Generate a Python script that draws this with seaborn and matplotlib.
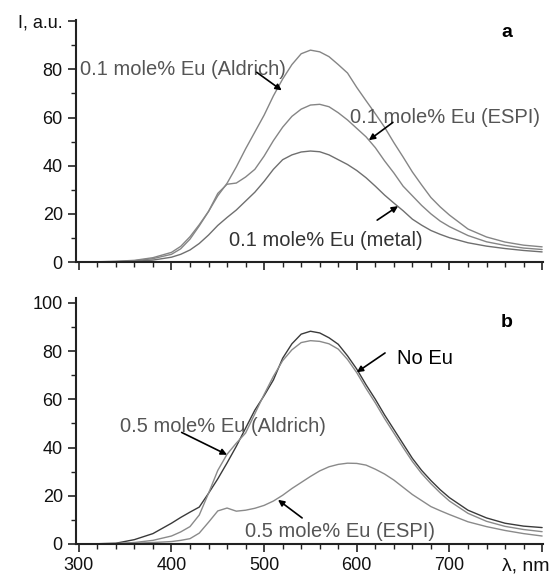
import matplotlib
matplotlib.use("Agg")
import matplotlib.pyplot as plt
from matplotlib.ticker import MultipleLocator
import seaborn as sns
import pandas as pd

# ---------------- data ----------------
wavelength = [300, 320, 340, 360, 380, 400, 410, 420, 430, 440, 450, 460, 470, 480, 490,
              500, 510, 520, 530, 540, 550, 560, 570, 580, 590, 600, 610, 620, 630, 640,
              650, 660, 670, 680, 690, 700, 720, 740, 760, 780, 800]

# panel a
a_aldrich = [0, 0.1, 0.3, 0.7, 1.8, 4.0, 6.5, 10.5, 15.5, 21, 27.5, 32.7, 39.5, 47, 54,
             61, 69, 76, 82, 86.5, 88, 87.3, 85.3, 82, 78.5, 72.5, 67, 61.6, 56, 49.6,
             43.6, 37.4, 32, 26.8, 22.9, 19.5, 13.7, 10.4, 8.3, 7.0, 6.3]
a_espi = [0, 0.1, 0.2, 0.5, 1.4, 3.2, 5.5, 9.5, 15, 21, 28.5, 32.3, 32.8, 35.3, 38.5,
          44, 50.4, 56, 60.5, 63.5, 65.2, 65.5, 64.5, 62, 59, 55.5, 52, 47.5, 42, 37,
          31.5, 27.5, 23.5, 20, 17, 14.7, 11, 8.4, 6.9, 5.8, 5.2]
a_metal = [0, 0, 0.1, 0.3, 0.8, 2.0, 3.2, 5.0, 7.7, 11.2, 15.2, 18.5, 21.6, 25.3, 29,
           33.5, 38.5, 42.5, 44.5, 45.7, 46.1, 45.8, 44.5, 42.5, 40.5, 38, 35, 31.5, 27.8, 24.5,
           21.3, 17.8, 15.3, 13.1, 11.5, 10.1, 8.0, 6.6, 5.6, 4.8, 4.2]

# panel b
b_noeu = [0, 0.1, 0.3, 1.8, 4.3, 8.6, 11, 13.2, 15.3, 21, 27, 33.6, 40.5, 48, 55.5,
          61.5, 68, 77, 83, 87, 88.2, 87.5, 85.5, 82.8, 78, 72.5, 66, 60, 53.5, 47.5,
          41.5, 35.5, 30.5, 26.3, 22.5, 19.2, 14, 10.8, 8.6, 7.4, 6.8]
b_aldrich = [0, 0.1, 0.2, 0.6, 1.5, 3.3, 5, 7.2, 12, 21, 30.5, 37.2, 41.8, 46, 54,
             62, 69.5, 76, 80.5, 83.5, 84.3, 84, 83, 80.8, 76.5, 71, 64.5, 58.5, 52, 46,
             40, 34.2, 29.2, 25, 21.2, 17.8, 12.7, 9.4, 7.3, 6.0, 5.1]
b_espi = [0, 0.05, 0.1, 0.3, 0.6, 1.0, 1.5, 2.2, 4.5, 9, 13.7, 14.9, 13.6, 14, 14.8,
          16, 17.8, 20.2, 23, 25.5, 28, 30.3, 32, 33, 33.5, 33.4, 32.7, 31, 29, 26.5,
          23.5, 20.5, 18, 15.5, 13.8, 12.2, 9.2, 7.2, 5.6, 4.3, 3.3]

x_ticks = [300, 400, 500, 600, 700, 800]
x_ticklabels = ["300", "400", "500", "600", "700", ""]
ya_ticks = [0, 20, 40, 60, 80, 100]
ya_ticklabels = ["0", "20", "40", "60", "80", "I, a.u."]
yb_ticks = [0, 20, 40, 60, 80, 100]
yb_ticklabels = ["0", "20", "40", "60", "80", "100"]

# ---------------- style ----------------
sns.set_style("ticks")
plt.rcParams["font.family"] = ["Liberation Sans", "DejaVu Sans"]

fig = plt.figure(figsize=(5.58, 5.76), dpi=100)
ax_a = fig.add_axes([0.1362, 0.5451, 0.837, 0.4201])
ax_b = fig.add_axes([0.1362, 0.0556, 0.837, 0.4271])

df_a = pd.DataFrame({"wl": wavelength * 3,
                     "I": a_aldrich + a_espi + a_metal,
                     "s": ["ald"] * len(wavelength) + ["espi"] * len(wavelength) + ["metal"] * len(wavelength)})
df_b = pd.DataFrame({"wl": wavelength * 3,
                     "I": b_noeu + b_aldrich + b_espi,
                     "s": ["noeu"] * len(wavelength) + ["ald"] * len(wavelength) + ["espi"] * len(wavelength)})

sns.lineplot(data=df_a, x="wl", y="I", hue="s", ax=ax_a, legend=False,
             palette={"ald": "#858585", "espi": "#858585", "metal": "#6f6f6f"}, linewidth=1.0)
sns.lineplot(data=df_b, x="wl", y="I", hue="s", ax=ax_b, legend=False,
             palette={"noeu": "#3a3a3a", "ald": "#8a8a8a", "espi": "#8a8a8a"}, linewidth=1.0)

for ax in (ax_a, ax_b):
    ax.set_xlim(297, 801)
    ax.set_xlabel("")
    ax.set_ylabel("")
    for side in ("top", "right"):
        ax.spines[side].set_visible(False)
    for side in ("left", "bottom"):
        ax.spines[side].set_linewidth(1.5)
        ax.spines[side].set_color("#222222")
    ax.set_xticks(x_ticks)
    ax.xaxis.set_minor_locator(MultipleLocator(20))
    ax.yaxis.set_minor_locator(MultipleLocator(10))
    ax.tick_params(which="major", direction="out", length=6, width=1.2, color="#222222",
                   labelsize=13, labelcolor="#111111")
    ax.tick_params(which="minor", direction="out", length=3.5, width=1.0, color="#222222")

ax_a.set_ylim(0, 100.5)
ax_b.set_ylim(0, 102)
ax_a.set_yticks(ya_ticks)
ax_a.set_yticklabels(ya_ticklabels)
ax_b.set_yticks(yb_ticks)
ax_b.set_yticklabels(yb_ticklabels)
ax_a.set_xticklabels([])
ax_b.set_xticklabels(x_ticklabels)

ax_b.annotate("λ, nm", xy=(782, 0), xycoords=("data", "axes fraction"),
              xytext=(0, -9.5), textcoords="offset points", ha="center", va="top",
              fontsize=14, color="#111111", annotation_clip=False)

lab_col = "#555555"
arrow = dict(arrowstyle="-|>", color="black", lw=1.2, mutation_scale=9, shrinkA=0, shrinkB=0)
fs = 14.5

# panel a annotations
ax_a.text(301, 80, "0.1 mole% Eu (Aldrich)", fontsize=fs, color=lab_col, va="center", ha="left")
ax_a.annotate("", xy=(519, 71.3), xytext=(492, 78.8), arrowprops=arrow)
ax_a.text(593, 60, "0.1 mole% Eu (ESPI)", fontsize=fs, color=lab_col, va="center", ha="left")
ax_a.annotate("", xy=(613, 50.6), xytext=(639, 58), arrowprops=arrow)
ax_a.text(462, 9.1, "0.1 mole% Eu (metal)", fontsize=fs, color="#333333", va="center", ha="left")
ax_a.annotate("", xy=(644.5, 23.2), xytext=(622, 17.4), arrowprops=arrow)
ax_a.text(762, 95.3, "a", fontsize=14, color="black", va="center", ha="center", fontweight="bold")

# panel b annotations
ax_b.text(344, 48.75, "0.5 mole% Eu (Aldrich)", fontsize=fs, color=lab_col, va="center", ha="left")
ax_b.annotate("", xy=(460, 37), xytext=(411, 46.25), arrowprops=arrow)
ax_b.text(643.4, 76.7, "No Eu", fontsize=fs, color="black", va="center", ha="left")
ax_b.annotate("", xy=(600, 71.2), xytext=(630.5, 79.2), arrowprops=arrow)
ax_b.text(479, 5, "0.5 mole% Eu (ESPI)", fontsize=fs, color=lab_col, va="center", ha="left")
ax_b.annotate("", xy=(515, 18.3), xytext=(541, 10.8), arrowprops=arrow)
ax_b.text(762, 92, "b", fontsize=14, color="black", va="center", ha="center", fontweight="bold")

fig.savefig("out.png", dpi=100)
